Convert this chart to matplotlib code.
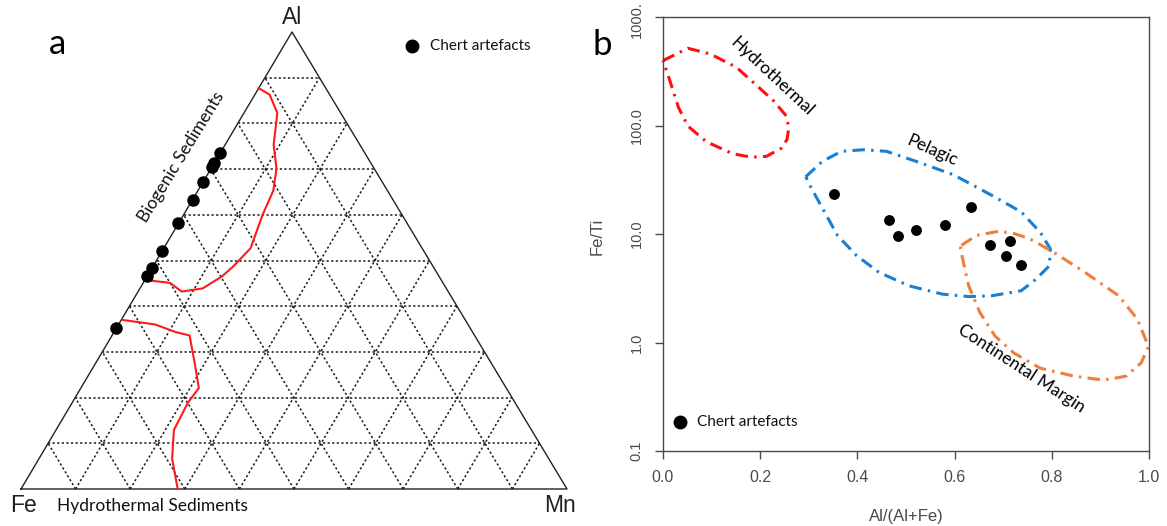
import numpy as np
import matplotlib
matplotlib.use("Agg")
import matplotlib.pyplot as plt

plt.rcParams['lines.scale_dashes'] = False

# ---------------- data ----------------
# Chert artefacts: Al/(Al+Fe) and Fe/Ti
al_ratio = [0.352, 0.466, 0.484, 0.521, 0.581, 0.633, 0.672, 0.705, 0.713, 0.736]
fe_ti = [23.2, 13.5, 9.5, 11.0, 12.2, 17.7, 8.0, 6.3, 8.6, 5.2]

# Ternary Al-Fe-Mn: red field boundaries (Al fraction, Mn fraction)
bio_al = [0.877, 0.863, 0.823, 0.753, 0.701, 0.653, 0.598, 0.527, 0.487, 0.465, 0.439, 0.432, 0.451, 0.457]
bio_mn = [0.000, 0.027, 0.061, 0.089, 0.120, 0.138, 0.145, 0.159, 0.147, 0.137, 0.115, 0.080, 0.049, 0.004]
hyd_al = [0.370, 0.360, 0.343, 0.336, 0.273, 0.221, 0.188, 0.129, 0.066, 0.000]
hyd_mn = [0.002, 0.067, 0.114, 0.142, 0.183, 0.216, 0.212, 0.216, 0.244, 0.287]

# Fe/Ti vs Al/(Al+Fe) fields
hydro_x = [0.000, 0.051, 0.097, 0.151, 0.190, 0.228, 0.254, 0.259, 0.255, 0.244, 0.213, 0.182,
           0.143, 0.089, 0.051, 0.032, 0.012, 0.000]
hydro_y = [396, 515, 457, 344, 240, 168, 122, 95, 74, 62, 52, 51, 55, 71, 99, 146, 277, 396]
pel_x = [0.294, 0.328, 0.367, 0.413, 0.460, 0.521, 0.598, 0.675, 0.737, 0.776, 0.797, 0.795,
         0.768, 0.737, 0.675, 0.629, 0.575, 0.506, 0.444, 0.398, 0.359, 0.336, 0.313, 0.298, 0.294]
pel_y = [33.8, 46.7, 57.8, 59.8, 57.8, 46.7, 35.1, 22.9, 16.0, 10.4, 7.3, 5.1,
         3.85, 3.0, 2.69, 2.65, 2.79, 3.33, 4.44, 6.34, 9.7, 14.9, 22.9, 30.4, 33.8]
cont_x = [0.614, 0.645, 0.691, 0.722, 0.753, 0.799, 0.868, 0.938, 0.976, 0.999, 0.984, 0.953,
          0.907, 0.845, 0.776, 0.722, 0.683, 0.652, 0.629, 0.618, 0.612, 0.614]
cont_y = [7.85, 9.7, 10.6, 10.1, 9.1, 7.0, 4.44, 2.69, 1.64, 0.92, 0.65, 0.49,
          0.45, 0.49, 0.58, 0.80, 1.15, 1.89, 3.33, 5.5, 7.3, 7.85]

y_ticks = [0.1, 1, 10, 100, 1000]
y_ticklabels = ["0.1", "1.0", "10.0", "100.0", "1000."]
x_ticks = [0.0, 0.2, 0.4, 0.6, 0.8, 1.0]
x_ticklabels = ["0.0", "0.2", "0.4", "0.6", "0.8", "1.0"]

TXT = "Lato"
NUM = "Liberation Sans"
GRAY = "#4a4a4a"

W, H = 1167, 526
fig = plt.figure(figsize=(W / 100, H / 100), dpi=100)

# ---------------- panel a: ternary ----------------
axa = fig.add_axes([0, 0, 583.5 / W, 1])
axa.set_xlim(0, 583.5)
axa.set_ylim(H, 0)
axa.axis("off")

V_FE = np.array([21.0, 489.0])
V_MN = np.array([567.0, 489.0])
V_AL = np.array([292.0, 32.0])


def tern(fe, al, mn):
    fe, al, mn = np.asarray(fe, float), np.asarray(al, float), np.asarray(mn, float)
    x = fe * V_FE[0] + al * V_AL[0] + mn * V_MN[0]
    y = fe * V_FE[1] + al * V_AL[1] + mn * V_MN[1]
    return x, y


grid_kw = dict(color="#1a1a1a", lw=1.1, ls=(0, (1.6, 1.7)), zorder=1)
for k in range(1, 10):
    f = k / 10
    x, y = tern([1 - f, 0], [f, f], [0, 1 - f])
    axa.plot(x, y, **grid_kw)
    x, y = tern([1 - f, 0], [0, 1 - f], [f, f])
    axa.plot(x, y, **grid_kw)
    x, y = tern([f, f], [0, 1 - f], [1 - f, 0])
    axa.plot(x, y, **grid_kw)

x, y = tern([1, 0, 0, 1], [0, 1, 0, 0], [0, 0, 1, 0])
axa.plot(x, y, color="#222222", lw=1.0, zorder=2)

ba, bm = np.array(bio_al), np.array(bio_mn)
x, y = tern(1 - ba - bm, ba, bm)
axa.plot(x, y, color="#ff1a1a", lw=1.5, zorder=3)
ha_, hm_ = np.array(hyd_al), np.array(hyd_mn)
x, y = tern(1 - ha_ - hm_, ha_, hm_)
axa.plot(x, y, color="#ff1a1a", lw=1.5, zorder=3)

pa = np.array(al_ratio)
x, y = tern(1 - pa, pa, np.zeros_like(pa))
axa.plot(x, y, "o", color="black", ms=8, zorder=4)

axa.text(292, 17, "Al", ha="center", va="center", fontsize=16.5, family=NUM, color="#222222")
axa.text(23, 506, "Fe", ha="center", va="center", fontsize=16.5, family=NUM, color="#222222")
axa.text(560, 506, "Mn", ha="center", va="center", fontsize=16.5, family=NUM, color="#222222")
axa.text(57, 506, "Hydrothermal Sediments", ha="left", va="center", fontsize=12.5, family=TXT, color="#111111")
axa.text(181, 157, "Biogenic Sediments", ha="center", va="center", rotation=58.5,
         rotation_mode="anchor", fontsize=12.5, family=TXT, color="#111111")
axa.text(58, 44, "a", ha="center", va="center", fontsize=25, family=TXT, color="black")
axa.plot([412], [46], "o", color="black", ms=9)
axa.text(430, 46, "Chert artefacts", ha="left", va="center", fontsize=11, family=TXT, color="#111111")

# ---------------- panel b ----------------
L, R, T, B = 663, 1149, 17, 451
axb = fig.add_axes([L / W, 1 - B / H, (R - L) / W, (B - T) / H])
axb.set_yscale("log")
axb.set_xlim(0, 1)
axb.set_ylim(0.1, 1000)

dash = (9, 4.5, 1.8, 4.5)
axb.plot(hydro_x, hydro_y, color="#ff1010", lw=2.2, dashes=dash, clip_on=False)
axb.plot(pel_x, pel_y, color="#1a7fd0", lw=2.2, dashes=dash, clip_on=False)
axb.plot(cont_x, cont_y, color="#ef7f3a", lw=2.2, dashes=dash, clip_on=False)
axb.plot(al_ratio, fe_ti, "o", color="black", ms=6.8, zorder=5)

axb.text(0.224, 280, "Hydrothermal", rotation=-43, ha="center", va="center", fontsize=12.5, family=TXT)
axb.text(0.553, 59, "Pelagic", rotation=-24, ha="center", va="center", fontsize=12.5, family=TXT)
axb.text(0.737, 0.57, "Continental Margin", rotation=-33, ha="center", va="center", fontsize=12.5, family=TXT)

axb.plot([0.036], [0.185], "o", color="black", ms=9)
axb.text(0.07, 0.185, "Chert artefacts", ha="left", va="center", fontsize=11, family=TXT, color="#111111")

axb.set_yticks(y_ticks)
axb.set_yticklabels([""] * len(y_ticks))
for tv, tl in zip(y_ticks, y_ticklabels):
    dy = -2.0 if tv == max(y_ticks) else 0.0
    axb.annotate(tl, xy=(0, tv), xycoords=("axes fraction", "data"),
                 xytext=(-19, dy), textcoords="offset points", rotation=90,
                 ha="center", va="center", fontsize=10.5, family=NUM, color=GRAY)
axb.minorticks_off()
axb.set_xticks(x_ticks)
axb.set_xticklabels(x_ticklabels, family=NUM)
axb.tick_params(axis="both", colors=GRAY, labelcolor=GRAY, labelsize=11.5, length=6, width=1.0)
axb.tick_params(axis="x", pad=8)
for s in axb.spines.values():
    s.set_color(GRAY)
    s.set_linewidth(1.0)

fig.text(906 / W, 1 - 517 / H, "Al/(Al+Fe)", ha="center", va="center", fontsize=12, family=NUM, color=GRAY)
fig.text(597 / W, 1 - 236 / H, "Fe/Ti", ha="center", va="center", rotation=90, fontsize=12, family=NUM, color=GRAY)
fig.text(602 / W, 1 - 45 / H, "b", ha="center", va="center", fontsize=25, family=TXT, color="black")

fig.savefig("out.png", dpi=100)
